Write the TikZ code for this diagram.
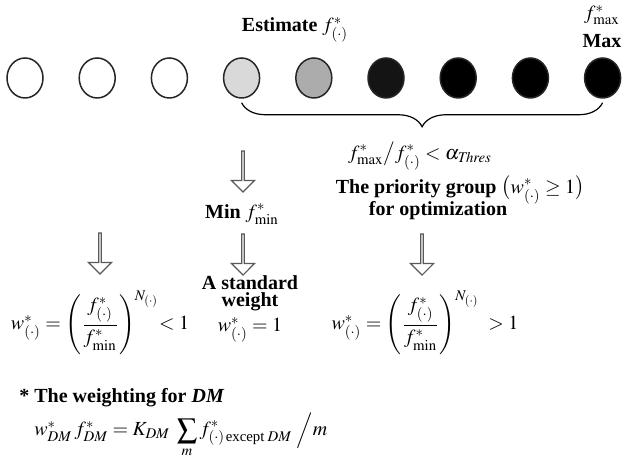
\documentclass[tikz,border=0pt]{standalone}
\usepackage{amsmath}
\usepackage{mathptmx}
\usepackage{fontspec}
\setmainfont{Liberation Serif}
\usetikzlibrary{shapes.arrows,shapes.geometric,decorations.pathreplacing}

\begin{document}
\begin{tikzpicture}[
    x=0.5pt, y=-0.5pt,
    ball/.style={ellipse, draw=black!85, line width=0.75pt, minimum width=18pt, minimum height=20pt, inner sep=0pt},
    hollow/.style={single arrow, draw=black!65, line width=0.6pt, fill=white, shape border rotate=270,
      minimum height=20.5pt, minimum width=11.5pt, single arrow head extend=2.6pt, inner sep=0pt},
    lbl/.style={font=\bfseries, inner sep=0.5pt},
    formula/.style={inner sep=0.5pt}
  ]
  \useasboundingbox (0,0) rectangle (624,474);
  \foreach \i/\shade in {1/white,2/white,3/white,4/gray!30,5/gray!65,6/black!92,7/black,8/black,9/black}
    \node[ball, fill=\shade] (c\i) at ({25+72.2*(\i-1)},78) {};
  \node[lbl] (est) at (295,30) {Estimate $f^{*}_{(\cdot)}$};
  \node[formula] (fmax) at (602,15) {$f^{*}_{\max}$};
  \node[lbl] (max) at (602,41) {Max};
  \draw[decorate, decoration={brace, mirror, amplitude=12pt}, line width=0.6pt]
    ([yshift=-2pt]c4.south) -- ([yshift=-2pt]c9.south);
  \node[formula] (ratio) at (420,156) {$f^{*}_{\max}\big/f^{*}_{(\cdot)}<\alpha_{\mathit{Thres}}$};
  \node[lbl] (prio) at (460,190) {The priority group $\bigl(w^{*}_{(\cdot)}\geq 1\bigr)$};
  \node[lbl] (opt) at (438,211) {for optimization};
  \node[hollow] (aMin) at (243,171) {};
  \node[lbl] (min) at (242,214) {Min $f^{*}_{\min}$};
  \node[hollow] (aStd) at (243,254) {};
  \node[hollow] (aLeft) at (100,253) {};
  \node[hollow] (aRight) at (422,254) {};
  \node[lbl] (std1) at (250,283) {A standard};
  \node[lbl] (std2) at (250,302) {weight};
  \node[formula] (std3) at (250,330) {$w^{*}_{(\cdot)}=1$};
  \node[formula] (low) at (100,323)
    {$w^{*}_{(\cdot)}=\left(\dfrac{f^{*}_{(\cdot)}}{f^{*}_{\min}}\right)^{N_{(\cdot)}}\!\!<1$};
  \node[formula] (high) at (425,323)
    {$w^{*}_{(\cdot)}=\left(\dfrac{f^{*}_{(\cdot)}}{f^{*}_{\min}}\right)^{N_{(\cdot)}}\;>1$};
  \node[lbl, anchor=west] (dmhead) at (18,398) {* The weighting for \textit{DM}};
  \node[formula, anchor=west] (dm) at (33,435)
    {$w^{*}_{\mathit{DM}}\,f^{*}_{\mathit{DM}}=K_{\mathit{DM}}\;\displaystyle\sum_{m}f^{*}_{(\cdot)\,\text{except}\;\mathit{DM}}\;\Big/m$};
\end{tikzpicture}
\end{document}
